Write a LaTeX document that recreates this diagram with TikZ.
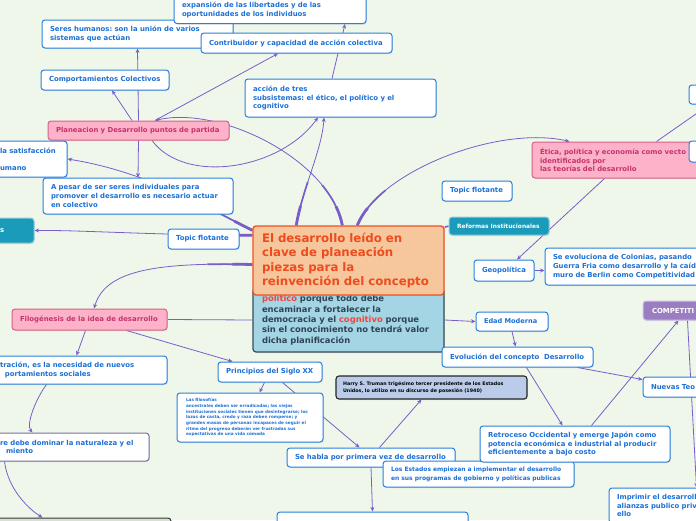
\documentclass[tikz,border=0pt]{standalone}
\usepackage{fontspec}
\newfontfamily\dv{DejaVu Sans}
\usetikzlibrary{arrows.meta,calc,shadows}
\pgfdeclarelayer{back}
\pgfdeclarelayer{lines}
\pgfsetlayers{back,lines,main}
\frenchspacing
\definecolor{bg}{RGB}{239,247,235}
\definecolor{bxb}{RGB}{40,128,222}
\definecolor{bxt}{RGB}{28,112,214}
\definecolor{pkf}{RGB}{253,178,202}
\definecolor{pkb}{RGB}{214,96,134}
\definecolor{pkt}{RGB}{196,52,108}
\definecolor{tlf}{RGB}{26,155,186}
\definecolor{tlb}{RGB}{150,205,220}
\definecolor{puf}{RGB}{155,126,194}
\definecolor{pub}{RGB}{205,190,228}
\definecolor{cn}{RGB}{120,94,200}
\definecolor{orf}{RGB}{246,198,156}
\definecolor{orb}{RGB}{240,82,36}
\definecolor{ort}{RGB}{238,76,30}
\definecolor{lbf}{RGB}{163,213,228}
\definecolor{lbb}{RGB}{58,74,86}
\definecolor{lbt}{RGB}{48,68,84}
\definecolor{rdt}{RGB}{240,70,60}
\definecolor{trf}{RGB}{186,204,233}
\definecolor{grb}{RGB}{120,110,160}
\definecolor{dkb}{RGB}{50,60,50}
\tikzset{
  conn/.style={draw=cn, line width=0.8pt},
  arr/.style={conn, -{Stealth[length=4.5pt,width=4pt]}},
  base/.style={rounded corners=3pt, line width=1pt, align=left, inner xsep=8pt, inner ysep=0pt,
    font=\dv\bfseries\fontsize{6.9}{8.6}\selectfont,
    drop shadow={shadow xshift=0.8pt, shadow yshift=-1pt, opacity=0.18}},
  bx/.style={base, draw=bxb, fill=white, text=bxt},
  pk/.style={base, draw=pkb, fill=pkf, text=pkt},
  tl/.style={base, draw=tlb, fill=tlf, text=white},
  pu/.style={base, draw=pub, fill=puf, text=white},
  orbox/.style={base, draw=orb, fill=orf, text=ort, line width=1.4pt, inner xsep=9pt,
    font=\dv\bfseries\fontsize{11.8}{14.5}\selectfont},
  lbbox/.style={base, draw=lbb, fill=lbf, text=lbt, line width=1.2pt, inner xsep=9pt,
    font=\dv\bfseries\fontsize{8.4}{10.4}\selectfont},
  trbox/.style={base, draw=black!85, fill=trf, text=black, line width=1.1pt, inner xsep=7pt,
    font=\dv\bfseries\fontsize{4.8}{6.3}\selectfont},
}
\newcommand\taper[2]{%
  \draw[arr] #1 #2;
  \begin{scope}\clip #1 circle (45);\draw[conn,line width=1.7pt] #1 #2;\end{scope}
  \begin{scope}\clip #1 circle (20);\draw[conn,line width=2.8pt] #1 #2;\end{scope}}
\begin{document}
\begin{tikzpicture}[x=1pt,y=-1pt]
\useasboundingbox (0,0) rectangle (696,520);
\clip (0,0) rectangle (696,520);
\begin{pgfonlayer}{back}
\fill[bg] (0,0) rectangle (696,520);
\end{pgfonlayer}

% ---------- nodes (boxes) ----------
\node[bx, text width=175pt, minimum height=28pt] (seres) at (137.5,34) {Seres humanos: son la unión de varios\\sistemas que actúan};
\node[bx, text width=176pt, minimum height=27.5pt] (expan) at (270,9.75) {expansión de las libertades y de las\\oportunidades de los individuos};
\node[bx, text width=175pt, minimum height=20pt] (contrib) at (296.5,43) {Contribuidor y capacidad de acción colectiva};
\node[bx, text width=112pt, minimum height=20pt] (comp) at (105,80) {Comportamientos Colectivos};
\node[bx, text width=175pt, minimum height=38pt] (accion) at (340.5,98) {acción de tres\\subsistemas: el ético, el político y el\\cognitivo};
\node[pk, text width=165pt, minimum height=19pt] (plan) at (138.5,130.5) {Planeacion y Desarrollo puntos de partida};
\node[bx, text width=59pt, minimum height=36pt] (satisf) at (29.5,159) {la satisfacción\\\mbox{}\\umano};
\node[bx, text width=174pt, minimum height=36pt] (apesar) at (138,196) {A pesar de ser seres individuales para\\promover el desarrollo es necesario actuar\\en colectivo};
\node[tl, text width=26pt, minimum height=25pt] (teal) at (13,230.5) {s};
\node[bx, text width=55pt, minimum height=20pt] (topic1) at (203.5,239) {Topic flotante};
\node[lbbox, text width=173pt, minimum height=64pt] (blue) at (348.5,320) {{\color{rdt}político} porque todo debe\\encaminar a fortalecer la\\democracia y el {\color{rdt}cognitivo} porque\\sin el conocimiento no tendrá valor\\dicha planificación};
\node[orbox, text width=173pt, minimum height=69pt] (cen) at (348.5,260.5) {El desarrollo leído en\\clave de planeación\\piezas para la\\reinvención del concepto};
\node[bx, text width=54pt, minimum height=20pt] (topic2) at (477,191) {Topic flotante};
\node[pk, text width=212pt, minimum height=36pt] (etica) at (646,160) {Ética, política y economía como vecto\\identificados por\\las teorías del desarrollo};
\node[bx, minimum width=71pt, minimum height=19pt] (rb1) at (724.5,94.5) {};
\node[bx, minimum width=71pt, minimum height=21pt] (rb2) at (724.5,151.5) {};
\node[tl, text width=84pt, minimum height=18pt, font=\dv\bfseries\fontsize{5.9}{7.5}\selectfont] (reform) at (499,226) {Reformas Institucionales};
\node[bx, text width=44pt, minimum height=21pt] (geo) at (504,270.5) {Geopolítica};
\node[bx, text width=199pt, minimum height=37pt] (sevol) at (652.5,266.5) {Se evoluciona de Colonias, pasando\\Guerra Fria como desarrollo y la caíd\\muro de Berlin como Competitividad};
\node[pu, text width=99pt, minimum height=19pt, inner xsep=9pt] (compet) at (701.5,310.5) {COMPETITI};
\node[bx, text width=56pt, minimum height=19pt, font=\dv\bfseries\fontsize{6.6}{8.4}\selectfont] (edad) at (512,321.5) {Edad Moderna};
\node[bx, text width=135pt, minimum height=20pt] (evol) at (517.5,357) {Evolución del concepto\ \ Desarrollo};
\node[bx, text width=101pt, minimum height=20pt] (nuevas) at (701.5,387) {Nuevas Teo};
\node[trbox, text width=177pt, minimum height=23pt] (truman) at (431.5,387.5) {Harry S. Truman trigésimo tercer presidente de los Estados\\Unidos, lo utilizo en su discurso de posesión (1940)};
\node[bx, text width=88pt, minimum height=20pt] (princ) at (270,372) {Principios del Siglo XX};
\node[bx, text width=128pt, minimum height=49pt, inner xsep=9pt, font=\dv\bfseries\fontsize{4.2}{5.7}\selectfont] (filos) at (250,417.5) {Las filosofías\\ancestrales deben ser erradicadas; las viejas\\instituciones sociales tienen que desintegrarse; los\\lazos de casta, credo y raza deben romperse; y\\grandes masas de personas incapaces de seguir el\\ritmo del progreso deberán ver frustradas sus\\expectativas de una vida cómoda};
\node[bx, text width=152pt, minimum height=19pt] (seh) at (371,457.5) {Se habla por primera vez de desarrollo};
\node[bx, text width=175pt, minimum height=26pt, font=\dv\bfseries\fontsize{6.0}{9}\selectfont] (estados) at (478.5,474) {Los Estados empiezan a implementar el desarrollo\\en sus programas de gobierno y políticas publicas};
\node[bx, text width=174pt, minimum height=36pt, font=\dv\bfseries\fontsize{6.9}{8.3}\selectfont] (retro) at (575,444) {Retroceso Occidental y emerge Japón como\\potencia económica e industrial al producir\\eficientemente a bajo costo};
\node[bx, text width=135pt, minimum height=35pt] (imprim) at (684.5,505.5) {Imprimir el desarroll\\alianzas publico priv\\ello};
\node[bx, minimum width=191pt, minimum height=28pt] (bot) at (372.5,526) {};
\node[pk, text width=139pt, minimum height=21pt] (filog) at (89.5,319.5) {Filogénesis de la idea de desarrollo};
\node[bx, text width=159pt, minimum height=28pt] (ilus) at (79.5,370) {tración, es la necesidad de nuevos\\\hspace*{5pt}portamientos sociales};
\node[bx, draw=grb, text width=141pt, minimum height=28pt] (debe) at (70.5,447) {re debe dominar la naturaleza y el\\\hspace*{6pt}miento};
\node[base, draw=dkb, fill=bg!80!gray, minimum width=179pt, minimum height=27pt] (botl) at (81.5,531.5) {};

% ---------- connectors (behind boxes) ----------
\begin{pgfonlayer}{lines}
\draw[arr] (plan.north) -- (seres.south);
\draw[arr] ($(plan.north)+(-6.5,0)$) -- ($(comp.south)+(7,0)$);
\draw[arr] ($(plan.north)+(16.5,0)$) -- ($(contrib.south)+(-18.5,0)$);
\draw[arr] (plan.south) -- (apesar.north);
\draw[arr] ($(plan.south)+(13.5,0)$) .. controls (185,185) and (280,170) .. ($(accion.south)+(-22.5,0)$);
\draw[arr] ($(accion.north)+(-8.5,0)$) -- ($(expan.south)+(75,0)$);
% from the central topic (tapered)
\taper{($(cen.north west)+(90,0)$)}{.. controls (330,160) and (220,105) .. ($(plan.north)+(16.5,0)$)}
\taper{($(cen.north west)+(44,0)$)}{.. controls (302,190) and (322,150) .. ($(accion.south)+(-16.5,0)$)}
\taper{($(cen.north west)+(105,0)$)}{.. controls (380,170) and (500,125) .. ($(etica.north west)+(38,0)$)}
\taper{($(cen.north west)+(0,5)$)}{.. controls (215,212) and (150,172) .. (satisf.east)}
\taper{($(cen.north west)+(0,10)$)}{.. controls (150,235) and (80,230) .. (teal.east)}
\taper{($(cen.west)+(0,4)$)}{.. controls (150,262) and (105,272) .. ($(filog.north)+(4.5,0)$)}
\draw[conn, line width=1.6pt] ($(cen.north east)+(0,2)$) -- (reform.west);
% right side
\draw[arr] ($(etica.south west)+(73,0)$) -- ($(geo.north)+(13,0)$);
\draw[arr] ($(etica.north west)+(125,0)$) -- ($(rb1.south west)+(21,0)$);
\draw[arr] (geo.east) -- ($(sevol.west)+(0,4)$);
\draw[conn] (filog.east) -- (blue.west);
\draw[arr] (blue.east) -- (edad.west);
\draw[arr] (edad.south) -- ($(evol.north)+(-2,0)$);
\draw[arr] ($(evol.south east)+(-16,0)$) -- ($(nuevas.north west)+(0,3)$);
\draw[arr] ($(evol.south west)+(85,0)$) -- ($(retro.north west)+(83,0)$);
\draw[arr] ($(retro.north west)+(112,0)$) -- ($(compet.south west)+(36,0)$);
\draw[arr] ($(compet.south west)+(45,0)$) -- ($(imprim.north west)+(88,0)$);
% lower middle
\draw[arr] ($(seh.north west)+(93,0)$) -- ($(truman.south west)+(86,0)$);
\draw[arr] ($(princ.south west)+(65,0)$) -- ($(seh.north west)+(73,0)$);
\draw[arr] ($(princ.south west)+(47,0)$) -- ($(filos.north west)+(83,0)$);
\draw[arr] (seh.south) -- (bot.north);
% left side
\draw[arr] ($(filog.south west)+(115,0)$) -- ($(princ.north west)+(15,0)$);
\draw[arr] ($(filog.south west)+(74,0)$) -- ($(ilus.north west)+(85,0)$);
\draw[arr] ($(ilus.south west)+(55,0)$) .. controls (35,400) and (26,425) .. ($(debe.north west)+(41,0)$);
\draw[arr] ($(debe.south west)+(13,0)$) .. controls (8,490) and (30,510) .. ($(botl.north west)+(51,0)$);
\end{pgfonlayer}
\end{tikzpicture}
\end{document}
